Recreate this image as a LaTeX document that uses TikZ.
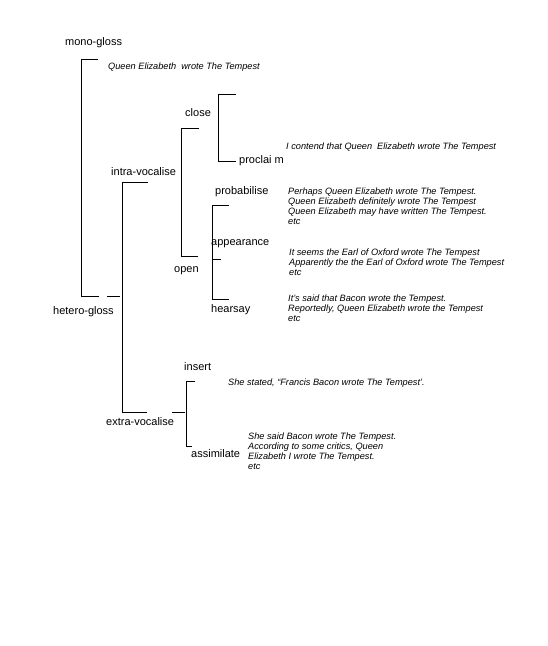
\documentclass[tikz,border=0pt]{standalone}
\usepackage{fontspec}
\setmainfont{Liberation Sans}
\usepackage{tikz}
\usetikzlibrary{positioning}
\tikzset{
    term/.style={anchor=west, inner sep=0pt, font=\fontsize{11}{13}\selectfont},
    example/.style={inner sep=0pt, align=left, font=\fontsize{9.2}{10}\selectfont\itshape},
    bracket/.style={line width=0.9pt, draw=black}
}

\begin{document}
\begin{tikzpicture}[x=1pt, y=-1pt]
\useasboundingbox[fill=white] (0,0) rectangle (547,646);
% brackets
\draw[bracket] (98,59) -- (81,59) -- (81,296) -- (99,296);
\draw[bracket] (107,296) -- (120,296);
\draw[bracket] (148,182) -- (122,182) -- (122,412) -- (147,412);
\draw[bracket] (172,412) -- (185,412);
\draw[bracket] (199,128) -- (181,128) -- (181,256) -- (198,256);
\draw[bracket] (236,94) -- (218,94) -- (218,161) -- (236,161);
\draw[bracket] (229,205) -- (212,205) -- (212,299) -- (229,299);
\draw[bracket] (212,259) -- (221,259);
\draw[bracket] (195,381) -- (186,381) -- (186,446) -- (192,446);
% terms
\node[term] (mono) at (65,43) {mono-gloss};
\node[term] (hetero) at (53,312) {hetero-gloss};
\node[term] (intra) at (111,172) {intra-vocalise};
\node[term] (extra) at (106,422) {extra-vocalise};
\node[term] (close) at (185,113) {close};
\node[term] (open) at (174,271) {open};
\node[term] (proclaim) at (239,161) {proclai m};
\node[term] (probabilise) at (215,192) {probabilise};
\node[term] (appearance) at (211,244) {appearance};
\node[term] (hearsay) at (211,310) {hearsay};
\node[term] (insert) at (184,367) {insert};
\node[term] (assimilate) at (191,454) {assimilate};
% examples
\node[example, anchor=west] (exMono) at (108,67) {Queen Elizabeth~ wrote The Tempest};
\node[example, anchor=west] (exProclaim) at (286,147) {I contend that Queen~ Elizabeth wrote The Tempest};
\node[example, anchor=north west] (exProbabilise) at (288,188) {Perhaps Queen Elizabeth wrote The Tempest.\\ Queen Elizabeth definitely wrote The Tempest\\ Queen Elizabeth may have written The Tempest.\\ etc};
\node[example, anchor=north west] (exAppearance) at (289,249) {It seems the Earl of Oxford wrote The Tempest\\ Apparently the the Earl of Oxford wrote The Tempest\\ etc};
\node[example, anchor=north west] (exHearsay) at (288,295) {It’s said that Bacon wrote the Tempest.\\ Reportedly, Queen Elizabeth wrote the Tempest\\ etc};
\node[example, anchor=west] (exInsert) at (228,383) {She stated, “Francis Bacon wrote The Tempest’.};
\node[example, anchor=north west] (exAssimilate) at (248,433) {She said Bacon wrote The Tempest.\\ According to some critics, Queen\\ Elizabeth I wrote The Tempest.\\ etc};
\end{tikzpicture}
\end{document}
